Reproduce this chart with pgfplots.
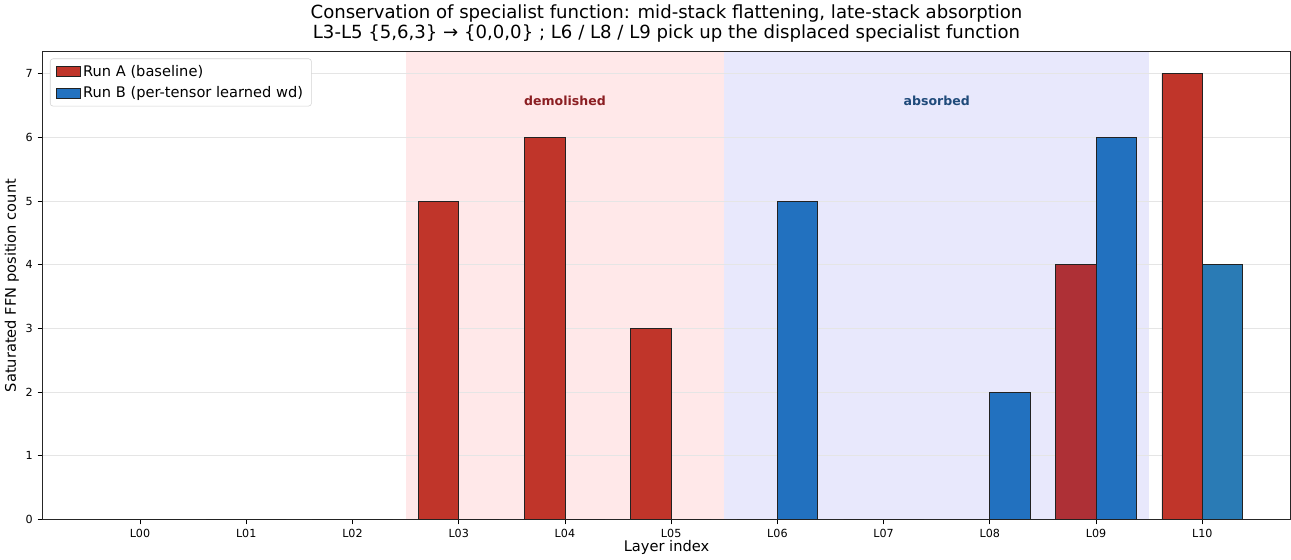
\documentclass[border=0pt]{standalone}
\usepackage{pgfplots}
\pgfplotsset{compat=1.18}
\usepackage{fontspec}
\setmainfont{DejaVu Sans}
\definecolor{runA}{HTML}{C0352A}
\definecolor{runB}{HTML}{2271BF}
\definecolor{runAd}{HTML}{AE3036}
\definecolor{runBd}{HTML}{2A7BB5}
\definecolor{pinkbg}{HTML}{FFE8E9}
\definecolor{lavbg}{HTML}{E8E8FC}
\definecolor{demol}{HTML}{8B1E22}
\definecolor{absor}{HTML}{1F4A7A}
\definecolor{edgec}{HTML}{222222}
\begin{document}
\begin{tikzpicture}
\begin{axis}[
  set layers,
  scale only axis,
  width=896pt, height=336pt,
  xmin=-0.918, xmax=10.83,
  ymin=0, ymax=7.35,
  xtick={0,1,2,3,4,5,6,7,8,9,10},
  xticklabels={L00,L01,L02,L03,L04,L05,L06,L07,L08,L09,L10},
  ytick={0,1,2,3,4,5,6,7},
  tick pos=left,
  tick align=outside,
  major tick length=3.5pt,
  tick style={black, line width=0.6pt},
  ymajorgrids,
  grid style={gray!20, line width=0.7pt},
  axis line style={black!85, line width=0.7pt},
  tick label style={font=\fontsize{8}{9}\selectfont},
  /pgf/number format/assume math mode=true,
  xlabel={Layer index},
  ylabel={Saturated FFN position count},
  label style={font=\fontsize{10.5}{12}\selectfont},
  xlabel style={yshift=5pt},
  ylabel style={yshift=-2pt},
  title={Conservation of specialist function: mid-stack flattening, late-stack absorption\\L3-L5 \{5,6,3\} → \{0,0,0\} ; L6 / L8 / L9 pick up the displaced specialist function},
  title style={align=center, font=\fontsize{13}{14.5}\selectfont, yshift=-3pt},
  legend style={at={(0.006,0.985)}, anchor=north west, font=\fontsize{10.5}{12}\selectfont,
    draw=gray!35, rounded corners=2pt, fill=white,
    row sep=2pt, inner xsep=4pt, inner ysep=2.5pt},
  legend cell align=left,
  legend image code/.code={\draw[#1, draw=edgec, sharp corners] (0cm,-0.12cm) rectangle (0.6cm,0.12cm);},
]
\begin{pgfonlayer}{axis background}
\fill[pinkbg] (axis cs:2.5,0) rectangle (axis cs:5.5,7.35);
\fill[lavbg] (axis cs:5.5,0) rectangle (axis cs:9.5,7.35);
\end{pgfonlayer}
\addplot[ybar, bar width=0.38, bar shift=-0.19, fill=runA, draw=edgec, line width=0.6pt]
  coordinates {(0,0) (1,0) (2,0) (3,5) (4,6) (5,3) (6,0) (7,0) (8,0) (10,7)};
\addlegendentry{Run A (baseline)}
\addplot[ybar, bar width=0.38, bar shift=0.19, fill=runB, draw=edgec, line width=0.6pt]
  coordinates {(0,0) (1,0) (2,0) (3,0) (4,0) (5,0) (6,5) (7,0) (8,2) (9,6)};
\addlegendentry{Run B (per-tensor learned wd)}
\addplot[ybar, bar width=0.38, bar shift=-0.19, fill=runAd, draw=edgec, line width=0.6pt, forget plot]
  coordinates {(9,4)};
\addplot[ybar, bar width=0.38, bar shift=0.19, fill=runBd, draw=edgec, line width=0.6pt, forget plot]
  coordinates {(10,4)};
\node[font=\bfseries\fontsize{9}{10}\selectfont, text=demol] at (axis cs:4,6.58) {demolished};
\node[font=\bfseries\fontsize{9}{10}\selectfont, text=absor] at (axis cs:7.5,6.58) {absorbed};
\end{axis}
\end{tikzpicture}
\end{document}
